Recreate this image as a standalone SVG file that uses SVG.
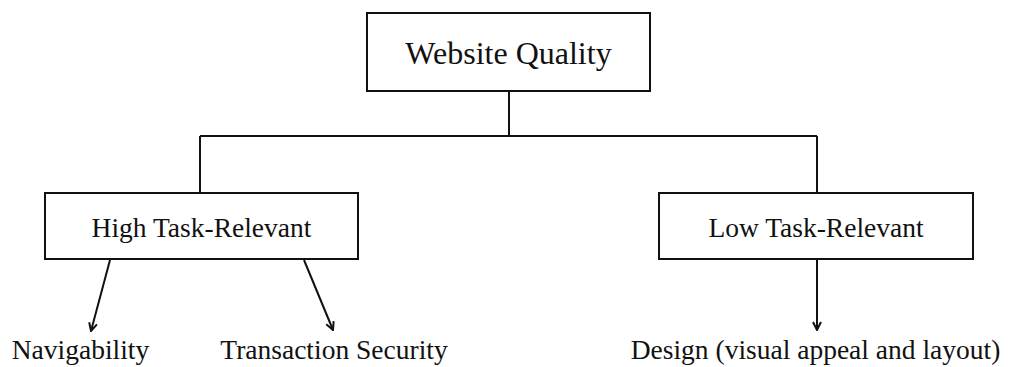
<svg xmlns="http://www.w3.org/2000/svg" width="1010" height="367" viewBox="0 0 1010 367">
  <style>
    .box { fill: #ffffff; stroke: #111111; stroke-width: 2; }
    .link { fill: none; stroke: #111111; stroke-width: 2; }
    .lbl { font-family: "Liberation Serif", "Times New Roman", serif; fill: #111111; text-anchor: middle; }
  </style>
  <defs>
    <marker id="tip" viewBox="0 0 10 10" refX="9" refY="5" markerWidth="10" markerHeight="10" markerUnits="userSpaceOnUse" orient="auto">
      <path d="M1,1 L9,5 L1,9" fill="none" stroke="#111111" stroke-width="2"/>
    </marker>
  </defs>
  <rect width="1010" height="367" fill="#ffffff"/>

  <g id="connectors">
    <path class="link" d="M509,91 V136 M200,136 H817 M200,136 V193 M817,136 V193"/>
    <line class="link" x1="110" y1="260" x2="91" y2="331" marker-end="url(#tip)"/>
    <line class="link" x1="304" y1="260" x2="333" y2="330" marker-end="url(#tip)"/>
    <line class="link" x1="817" y1="260" x2="817" y2="330" marker-end="url(#tip)"/>
  </g>

  <g id="website-quality">
    <rect class="box" x="367" y="13" width="283" height="78"/>
    <text class="lbl" x="508.5" y="64" font-size="32">Website Quality</text>
  </g>

  <g id="high-task-relevant">
    <rect class="box" x="45" y="193" width="313" height="66"/>
    <text class="lbl" x="201.5" y="237" font-size="27.5">High Task-Relevant</text>
  </g>

  <g id="low-task-relevant">
    <rect class="box" x="659" y="193" width="314" height="66"/>
    <text class="lbl" x="816" y="237" font-size="27.5">Low Task-Relevant</text>
  </g>

  <g id="navigability">
    <text class="lbl" x="80.5" y="359" font-size="27.5">Navigability</text>
  </g>

  <g id="transaction-security">
    <text class="lbl" x="334" y="359" font-size="27.5">Transaction Security</text>
  </g>

  <g id="design">
    <text class="lbl" x="815.5" y="359" font-size="27.5">Design (visual appeal and layout)</text>
  </g>
</svg>
